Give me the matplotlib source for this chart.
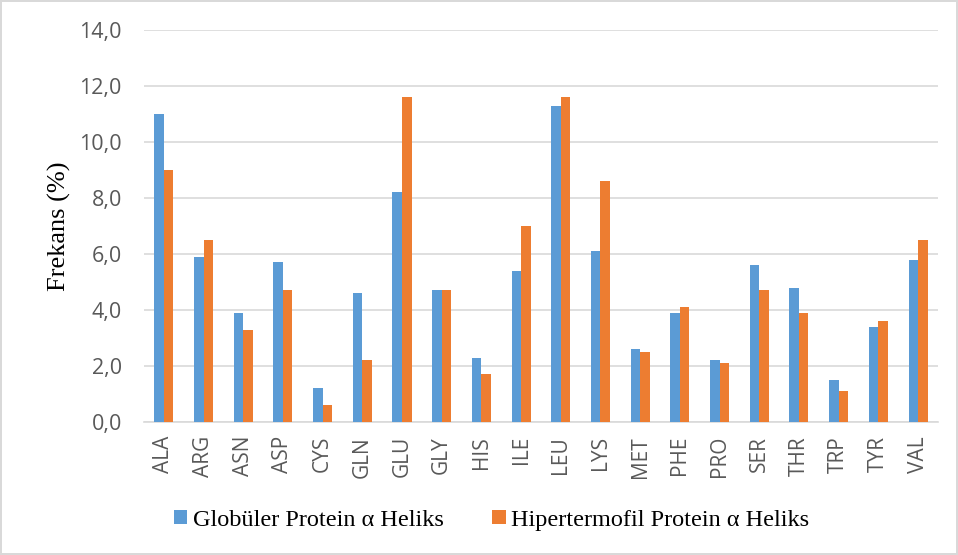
import matplotlib.pyplot as plt
import numpy as np

# amino acid categories
amino = ['ALA', 'ARG', 'ASN', 'ASP', 'CYS', 'GLN', 'GLU', 'GLY', 'HIS', 'ILE',
         'LEU', 'LYS', 'MET', 'PHE', 'PRO', 'SER', 'THR', 'TRP', 'TYR', 'VAL']
globuler = [11.0, 5.9, 3.9, 5.7, 1.2, 4.6, 8.2, 4.7, 2.3, 5.4,
            11.3, 6.1, 2.6, 3.9, 2.2, 5.6, 4.8, 1.5, 3.4, 5.8]
hipertermofil = [9.0, 6.5, 3.3, 4.7, 0.6, 2.2, 11.6, 4.7, 1.7, 7.0,
                 11.6, 8.6, 2.5, 4.1, 2.1, 4.7, 3.9, 1.1, 3.6, 6.5]
yticks = [0, 2, 4, 6, 8, 10, 12, 14]

fig = plt.figure(figsize=(9.58, 5.55), dpi=100)
fig.patch.set_edgecolor('#d9d9d9')
fig.patch.set_linewidth(1.5)
ax = fig.add_axes([0.1503, 0.2396, 0.8287, 0.7064])

x = np.arange(len(amino))
w = 0.24
ax.bar(x - w / 2, globuler, w, color='#5B9BD5', label='Globüler Protein α Heliks', zorder=3)
ax.bar(x + w / 2, hipertermofil, w, color='#ED7D31', label='Hipertermofil Protein α Heliks', zorder=3)

ax.set_xlim(-0.5, len(amino) - 0.5)
ax.set_ylim(0, 14)
ax.set_yticks(yticks)
ax.set_yticklabels([f'{v:.1f}'.replace('.', ',') for v in yticks],
                   fontsize=15.5, color='#595959', family='Open Sans')
ax.set_xticks(x)
ax.set_xticklabels(amino, rotation=90, fontsize=15, color='#595959', family='Open Sans')
ax.tick_params(axis='y', length=0, pad=16)
ax.tick_params(axis='x', length=0, pad=10)
ax.grid(axis='y', color='#d9d9d9', linewidth=1.2, zorder=0)
for s in ['top', 'right', 'left']:
    ax.spines[s].set_visible(False)
ax.spines['bottom'].set_color('#d9d9d9')
ax.spines['bottom'].set_linewidth(1.2)

ax.set_ylabel('Frekans (%)', fontsize=19, family='Liberation Serif', color='black')
ax.yaxis.set_label_coords(-0.092, 0.5)

fig.legend(loc='center', bbox_to_anchor=(0.513, 0.063), ncol=2, frameon=False,
           prop={'family': 'Liberation Serif', 'size': 17.5},
           handlelength=0.55, handleheight=0.55, handletextpad=0.23, columnspacing=2.0)

plt.savefig('out.png')
